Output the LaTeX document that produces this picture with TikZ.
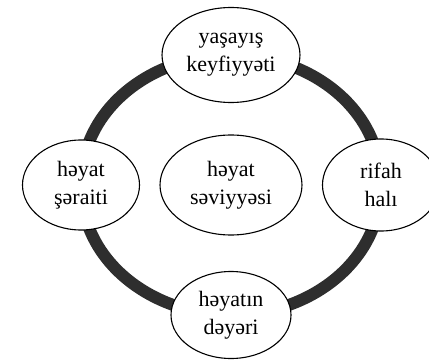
\documentclass[tikz,border=0pt]{standalone}
\usepackage{fontspec}
\setmainfont{Liberation Serif}
\usetikzlibrary{shapes.geometric,backgrounds}
\tikzset{
    sahe/.style={
    ellipse,draw=black,fill=white,line width=1.1pt,align=center,inner sep=0pt,
    font=\fontsize{22}{28}\selectfont
    },
    ring/.style={draw=black!82,line width=12pt}
}

\begin{document}
\begin{tikzpicture}[x=1pt,y=1pt]
    \useasboundingbox (0,0) rectangle (429,-361);

    \node[sahe,minimum width=142pt,minimum height=100pt] (sev) at (231,-185) {h\char"0259yat\\ s\char"0259viyy\char"0259si};

    \node[sahe,minimum width=138pt,minimum height=95pt,above of=sev,node distance=130pt] (keyf) {ya\c{s}ay\i\c{s}\\ keyfiyy\char"0259ti};
    \node[sahe,minimum width=117pt,minimum height=90pt,left of=sev,node distance=150pt] (sert) {h\char"0259yat\\ \c{s}\char"0259raiti};
    \node[sahe,minimum width=117pt,minimum height=92pt,right of=sev,node distance=150pt] (rifah) {rifah\\ hal\i};
    \node[sahe,minimum width=120pt,minimum height=87pt,below of=sev,node distance=130pt] (deyer) {h\char"0259yat\i n\\ d\char"0259y\char"0259ri};

    \begin{scope}[on background layer]
      \path[ring] (keyf.center) to[out=180,in=90] (sert.center)
        to[out=-90,in=180] (deyer.center)
        to[out=0,in=-90] (rifah.center)
        to[out=90,in=0] (keyf.center);
    \end{scope}
\end{tikzpicture}
\end{document}
